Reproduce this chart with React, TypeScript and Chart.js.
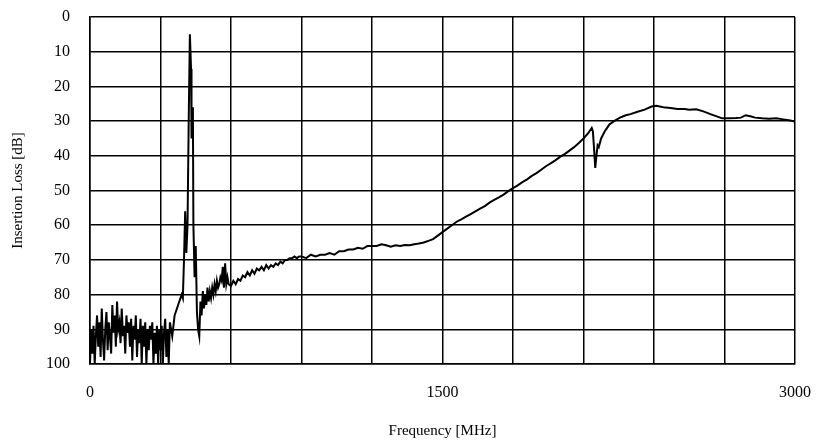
import React, { useEffect, useRef } from "react";
import { Chart, registerables } from "chart.js";

Chart.register(...registerables);

const freqMHz: number[] = [
  0, 5, 10, 15, 20, 25, 30, 35, 40, 45, 50, 55, 60, 65, 70, 75, 80, 85, 90, 95,
  100, 105, 110, 115, 120, 125, 130, 135, 140, 145, 150, 155, 160, 165, 170, 175, 180, 185, 190, 195,
  200, 205, 210, 215, 220, 225, 230, 235, 240, 245, 250, 255, 260, 265, 270, 275, 280, 285, 290, 295,
  300, 305, 310, 315, 320, 325, 330, 335, 340, 350, 360, 370, 380, 390, 395, 400, 405, 410, 415, 420,
  425, 430, 432, 435, 438, 440, 445, 450, 455, 460, 465, 470, 475, 480, 485, 490, 495, 500, 505, 510,
  515, 520, 525, 530, 535, 540, 545, 550, 555, 560, 565, 570, 575, 580, 585, 590, 600, 610, 620, 630,
  640, 650, 660, 670, 680, 690, 700, 710, 720, 730, 740, 750, 760, 770, 780, 790, 800, 810, 820, 830,
  840, 850, 860, 870, 880, 890, 900, 920, 940, 960, 980, 1000, 1020, 1040, 1060, 1080, 1100, 1120, 1140, 1160,
  1180, 1200, 1220, 1240, 1260, 1280, 1300, 1320, 1340, 1360, 1380, 1400, 1420, 1440, 1460, 1480, 1500, 1520, 1540, 1560,
  1580, 1600, 1620, 1640, 1660, 1680, 1700, 1720, 1740, 1760, 1780, 1800, 1820, 1840, 1860, 1880, 1900, 1920, 1940, 1960,
  1980, 2000, 2020, 2040, 2060, 2080, 2100, 2120, 2135, 2140, 2145, 2150, 2155, 2160, 2165, 2175, 2190, 2210, 2230, 2255,
  2280, 2300, 2330, 2360, 2390, 2410, 2440, 2470, 2500, 2530, 2550, 2580, 2610, 2640, 2670, 2690, 2720, 2750, 2770, 2790,
  2810, 2830, 2860, 2890, 2920, 2950, 2980, 3000,
];

const lossDb: number[] = [
  100, 90, 97, 89, 100, 92, 86, 95, 88, 98, 84, 93, 99, 90, 85, 96, 88, 92, 97, 83,
  91, 86, 95, 82, 90, 88, 94, 84, 92, 89, 97, 86, 91, 88, 95, 87, 99, 89, 93, 86,
  98, 90, 94, 87, 100, 89, 95, 88, 100, 90, 96, 89, 93, 88, 100, 91, 97, 89, 100, 90,
  96, 89, 100, 91, 87, 98, 90, 100, 88, 92, 86, 84, 82, 80, 81, 70, 56, 68, 60, 30,
  5, 15, 35, 26, 30, 60, 75, 66, 85, 90, 92, 82, 86, 79, 84, 80, 83, 78, 82, 79,
  81, 78, 80, 77, 79, 76, 78, 77, 75, 76, 72, 78, 71, 77, 75, 77, 77.5, 76, 77, 75.5,
  76, 74.5, 75, 73.5, 74.5, 73, 74, 72.5, 73, 72, 73, 71.5, 72.5, 71.5, 72, 71, 71.5, 70.5, 71, 70,
  70, 69.5, 69.5, 69, 69.5, 69, 69, 69.5, 68.5, 69, 68.5, 68.5, 68, 68.5, 67.5, 67.5, 67, 67, 66.5, 66.8,
  66, 66, 66, 65.5, 65.8, 66.2, 65.8, 66, 65.7, 65.8, 65.5, 65.3, 65, 64.5, 64, 63, 62, 61, 60, 59,
  58.3, 57.5, 56.8, 56, 55.2, 54.5, 53.5, 52.7, 52, 51.2, 50.2, 49.3, 48.5, 47.6, 46.8, 45.8, 45, 44, 43, 42.2,
  41.3, 40.3, 39.5, 38.5, 37.5, 36.3, 35, 33.5, 32, 33, 38, 43.5, 40, 37, 37.5, 35, 33, 31, 30, 29,
  28.3, 28, 27.3, 26.7, 25.8, 25.6, 26, 26.2, 26.5, 26.5, 26.7, 26.6, 27.2, 28, 28.7, 29.2, 29.2, 29.1, 29, 28.3,
  28.6, 29, 29.2, 29.3, 29.2, 29.5, 29.8, 30.2,
];

const xLabeled: number[] = [0, 1500, 3000];

export default function App() {
  const canvasRef = useRef<HTMLCanvasElement | null>(null);

  useEffect(() => {
    const canvas = canvasRef.current;
    if (!canvas) return;
    const points = freqMHz.map((f, i) => ({ x: f, y: lossDb[i] }));
    const font = { family: "'Liberation Serif', 'Times New Roman', serif", size: 16 };
    const chart = new Chart(canvas, {
      type: "line",
      data: {
        datasets: [
          {
            data: points,
            borderColor: "#000",
            borderWidth: 2,
            pointRadius: 0,
            tension: 0,
            fill: false,
          },
        ],
      },
      options: {
        animation: false,
        responsive: false,
        devicePixelRatio: 1,
        parsing: false as any,
        layout: { padding: { top: 17, right: 24, left: 0, bottom: 0 } },
        plugins: { legend: { display: false }, tooltip: { enabled: false } },
        scales: {
          x: {
            type: "linear",
            min: 0,
            max: 3000,
            border: { color: "#000", width: 1.5 },
            grid: { color: "#000", lineWidth: 1.5, drawTicks: false },
            ticks: {
              stepSize: 300,
              padding: 19,
              color: "#000",
              font,
              maxRotation: 0,
              autoSkip: false,
              callback: (v: any) => (xLabeled.includes(Number(v)) ? String(v) : ""),
            },
            title: {
              display: true,
              text: "Frequency [MHz]",
              color: "#000",
              font: { family: font.family, size: 15 },
              padding: { top: 4, bottom: 2 },
            },
            afterFit: (s: any) => {
              s.height = 78;
              s.paddingLeft = 0;
              s.paddingRight = 0;
            },
          },
          y: {
            type: "linear",
            reverse: true,
            min: 0,
            max: 100,
            border: { color: "#000", width: 1.5 },
            grid: { color: "#000", lineWidth: 1.5, drawTicks: false },
            ticks: { stepSize: 10, padding: 20, color: "#000", font },
            title: {
              display: true,
              text: "Insertion Loss [dB]",
              color: "#000",
              font: { family: font.family, size: 15 },
              padding: { top: 9, bottom: 4 },
            },
            afterFit: (s: any) => {
              s.width = 90;
              s.paddingTop = 0;
              s.paddingBottom = 0;
            },
          },
        },
      },
    });
    return () => chart.destroy();
  }, []);

  return (
    <div style={{ position: "fixed", left: 0, top: 0, width: 819, height: 442, background: "#fff" }}>
      <canvas ref={canvasRef} width={819} height={442} style={{ width: 819, height: 442 }} />
    </div>
  );
}
